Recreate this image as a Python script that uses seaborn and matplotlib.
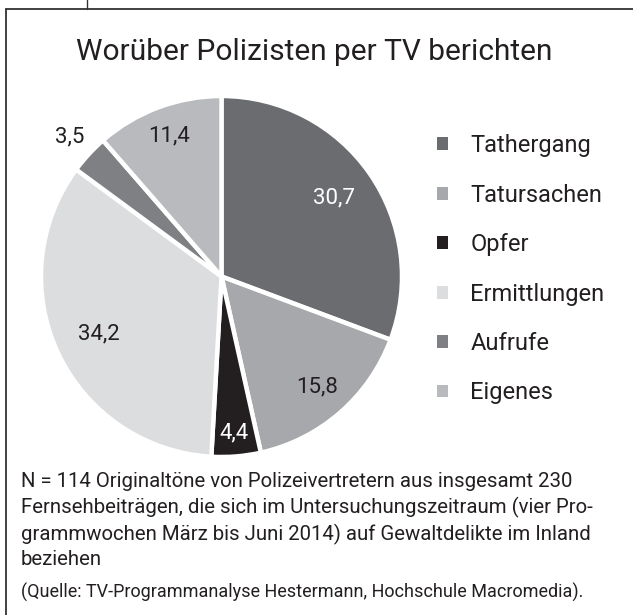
import matplotlib
matplotlib.use('Agg')
import matplotlib.pyplot as plt
import seaborn as sns
import numpy as np

# --- Daten ---
categories = ['Tathergang', 'Tatursachen', 'Opfer', 'Ermittlungen', 'Aufrufe', 'Eigenes']
shares = [30.7, 15.8, 4.4, 34.2, 3.5, 11.4]
colors = ['#6b6c70', '#a7a8ab', '#231f20', '#dcdddf', '#7f8084', '#b9babd']
label_colors = ['white', '#231f20', 'white', '#231f20', '#231f20', '#231f20']
label_radius = [0.76, 0.81, 0.87, 0.75, 1.14, 0.83]

title = 'Worüber Polizisten per TV berichten'
note = ('N = 114 Originaltöne von Polizeivertretern aus insgesamt 230\n'
        'Fernsehbeiträgen, die sich im Untersuchungszeitraum (vier Pro-\n'
        'grammwochen März bis Juni 2014) auf Gewaltdelikte im Inland\n'
        'beziehen')
source = '(Quelle: TV-Programmanalyse Hestermann, Hochschule Macromedia).'

sns.set_theme(style='white')
plt.rcParams['font.family'] = ['Roboto', 'DejaVu Sans']
text_color = '#231f20'

fig = plt.figure(figsize=(6.33, 6.15), dpi=100)

# Rahmen (links und oben) plus kleiner Strich
fig.add_artist(plt.Line2D([6 / 633, 6 / 633], [0, 1 - 9 / 615], color='#333333', lw=1.3))
fig.add_artist(plt.Line2D([6 / 633, 1], [1 - 9 / 615, 1 - 9 / 615], color='#333333', lw=1.3))
fig.add_artist(plt.Line2D([87 / 633, 87 / 633], [1 - 9 / 615, 1], color='#333333', lw=1.0))

fig.text(314 / 633, 1 - 60 / 615, title, ha='center', va='baseline', fontsize=21.5, color=text_color)

# Kreisdiagramm
ax = fig.add_axes([41 / 633, 158 / 615, 361 / 633, 361 / 615])
wedges, _ = ax.pie(shares, colors=colors, startangle=90, counterclock=False,
                   wedgeprops=dict(edgecolor='white', linewidth=3.2))
ax.set_xlim(-1, 1)
ax.set_ylim(-1, 1)
ax.set_aspect('equal')
ax.axis('off')

for w, val, lc, lr in zip(wedges, shares, label_colors, label_radius):
    mid = np.deg2rad((w.theta1 + w.theta2) / 2)
    ax.text(lr * np.cos(mid), lr * np.sin(mid), f'{val:.1f}'.replace('.', ','),
            ha='center', va='center', fontsize=16, color=lc, clip_on=False)

leg = fig.legend(wedges, categories, loc='upper left', bbox_to_anchor=(416 / 633, 1 - 113 / 615),
                 frameon=False, fontsize=17, handlelength=0.45, handleheight=0.45,
                 labelspacing=1.12, handletextpad=0.95, labelcolor=text_color)
for h in leg.legend_handles:
    h.set_edgecolor('none')

fig.text(21 / 633, 1 - 472 / 615, note, ha='left', va='top', fontsize=14.7,
         color=text_color, linespacing=1.36)
fig.text(21 / 633, 1 - 598 / 615, source, ha='left', va='baseline', fontsize=13,
         color=text_color)

fig.savefig('out.png', dpi=100)
